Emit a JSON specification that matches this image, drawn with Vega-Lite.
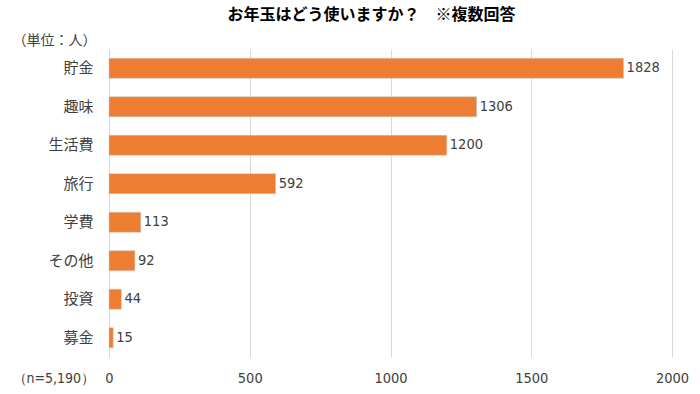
{
  "$schema": "https://vega.github.io/schema/vega-lite/v6.json",
  "width": 563,
  "height": 308,
  "autosize": {"type": "none"},
  "padding": {"left": 109, "top": 49, "right": 28, "bottom": 37},
  "background": "white",
  "title": {
    "text": "お年玉はどう使いますか？　※複数回答",
    "font": "Noto Sans CJK JP",
    "fontSize": 16,
    "fontWeight": "bold",
    "color": "#000000",
    "anchor": "middle",
    "dx": -19,
    "offset": 10
  },
  "data": {
    "values": [
      {"category": "貯金", "value": 1828},
      {"category": "趣味", "value": 1306},
      {"category": "生活費", "value": 1200},
      {"category": "旅行", "value": 592},
      {"category": "学費", "value": 113},
      {"category": "その他", "value": 92},
      {"category": "投資", "value": 44},
      {"category": "募金", "value": 15}
    ]
  },
  "encoding": {
    "y": {
      "field": "category",
      "type": "nominal",
      "sort": null,
      "scale": {"paddingInner": 0.48, "paddingOuter": 0.24},
      "axis": {
        "title": "（単位：人）",
        "titleAngle": 0,
        "titleAlign": "left",
        "titleBaseline": "middle",
        "titleX": -97,
        "titleY": -9,
        "titleFont": "Noto Sans CJK JP",
        "titleFontSize": 14,
        "titleFontWeight": "normal",
        "titleColor": "#404040",
        "labelFont": "Noto Sans CJK JP",
        "labelFontSize": 15,
        "labelColor": "#404040",
        "labelPadding": 16,
        "ticks": false,
        "domainColor": "#d9d9d9",
        "grid": false
      }
    },
    "x": {
      "field": "value",
      "type": "quantitative",
      "scale": {"domain": [0, 2000], "nice": false},
      "axis": {
        "values": [0, 500, 1000, 1500, 2000],
        "format": "d",
        "title": "（n=5,190）",
        "titleAngle": 0,
        "titleAlign": "left",
        "titleBaseline": "middle",
        "titleX": -97,
        "titleY": 21,
        "titleFont": "DejaVu Sans Condensed, DejaVu Sans",
        "titleFontSize": 14,
        "titleFontWeight": "normal",
        "titleColor": "#404040",
        "labelFont": "DejaVu Sans Condensed, DejaVu Sans",
        "labelFontSize": 14.5,
        "labelColor": "#404040",
        "labelPadding": 21,
        "labelBaseline": "middle",
        "labelFlush": false,
        "ticks": false,
        "domain": false,
        "grid": true,
        "gridColor": "#d9d9d9"
      }
    }
  },
  "layer": [
    {
      "mark": {"type": "bar", "color": "#ED7D31", "stroke": "#c9c9c9", "strokeWidth": 0.6}
    },
    {
      "mark": {"type": "text", "align": "left", "baseline": "middle", "dx": 3, "font": "DejaVu Sans Condensed, DejaVu Sans", "fontSize": 14.5, "color": "#404040"},
      "encoding": {"text": {"field": "value", "type": "quantitative"}}
    }
  ],
  "config": {"view": {"stroke": null}}
}
